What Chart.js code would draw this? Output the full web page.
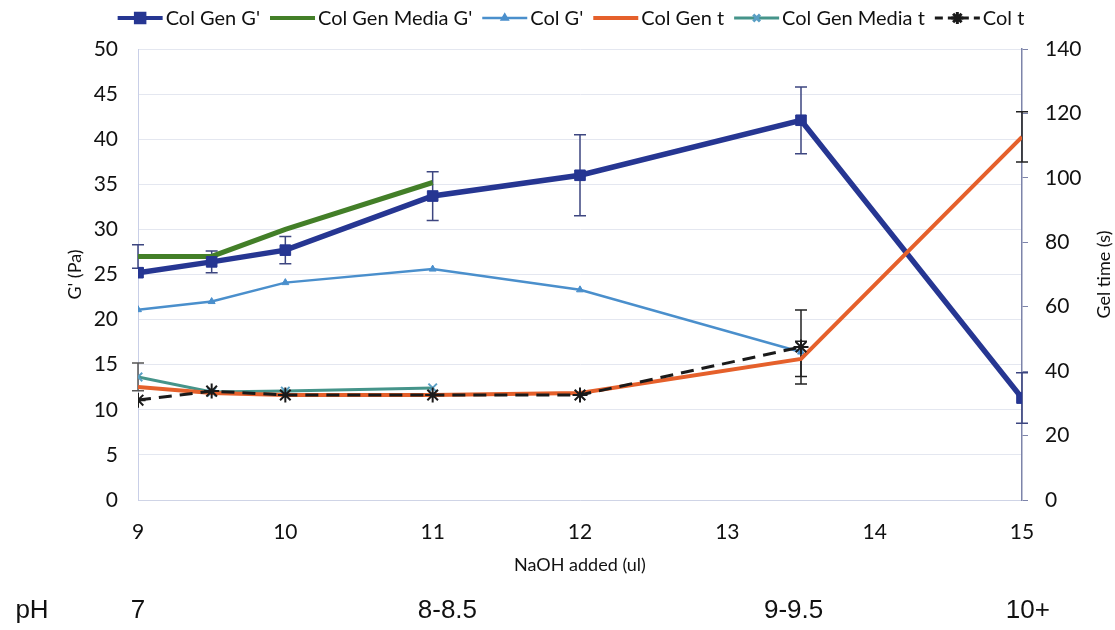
<!DOCTYPE html>
<html>
<head>
<meta charset="utf-8">
<script src="https://cdn.jsdelivr.net/npm/chart.js@4/dist/chart.umd.min.js"></script>
<style>
  html, body { margin: 0; padding: 0; background: #fff; }
  #wrap { width: 1115px; height: 630px; position: relative; }
</style>
</head>
<body>
<div id="wrap"><canvas id="gel-chart"></canvas></div>
<script>
// NaOH added (ul) at each measurement
const naoh = [9, 9.5, 10, 11, 12, 13.5, 15];

// storage modulus G' (Pa), left axis
const colGenG = [25.2, 26.4, 27.7, 33.7, 36.0, 42.1, 11.3];
const colGenGErr = [0, 1.2, 1.5, 2.7, 4.5, 3.7, 2.8];
const colGenMediaG = [27.0, 27.0, 30.0, 35.2];
const colGenMediaGErr = [1.3, 0, 0, 0];
const colG = [21.1, 22.0, 24.1, 25.6, 23.3, 16.4];

// gel time (s), right axis
const colGenT = [35.1, 33.2, 32.6, 32.6, 33.2, 43.8, 112.7];
const colGenTErr = [0, 0, 0, 0, 0, 5.5, 7.8];
const colGenMediaT = [38.2, 33.5, 33.8, 34.8];
const colGenMediaTErr = [4.3, 0, 0, 0];
const colT = [31.0, 33.8, 32.6, 32.6, 32.6, 47.5];
const colTErr = [0, 0, 0, 0, 0, 11.5];

// pH bands under the x axis
const phLabels = ['7', '8-8.5', '9-9.5', '10+'];
const phAt = [9, 11.1, 13.45, 15.04];

const FONT = 'Lato, "Open Sans", sans-serif';

const pts = vals => vals.map((v, i) => ({ x: naoh[i], y: v }));

// vertical error bars with caps, taken from ds.errors
const errorBars = {
  id: 'errorBars',
  beforeDatasetsDraw(chart) {
    const { ctx } = chart;
    const xs = chart.scales.x;
    chart.data.datasets.forEach(ds => {
      if (!ds.errors) return;
      const ys = chart.scales[ds.yAxisID];
      ctx.save();
      ctx.strokeStyle = ds.errorColor;
      ctx.lineWidth = 1.5;
      ds.data.forEach((p, j) => {
        const e = ds.errors[j];
        if (!e) return;
        const x = xs.getPixelForValue(p.x);
        const top = ys.getPixelForValue(p.y + e);
        const bot = ys.getPixelForValue(p.y - e);
        ctx.beginPath();
        ctx.moveTo(x, top); ctx.lineTo(x, bot);
        ctx.moveTo(x - 6, top); ctx.lineTo(x + 6, top);
        ctx.moveTo(x - 6, bot); ctx.lineTo(x + 6, bot);
        ctx.stroke();
      });
      ctx.restore();
    });
  }
};

// legend row (line sample + marker), right axis title, pH row
const extras = {
  id: 'extras',
  afterDraw(chart) {
    const { ctx } = chart;
    const xs = chart.scales.x;
    const area = chart.chartArea;
    ctx.save();

    // legend
    ctx.font = '20px ' + FONT;
    ctx.textBaseline = 'middle';
    const sample = 45, gapText = 3, gapItem = 10;
    const items = chart.data.datasets;
    let total = 0;
    items.forEach(ds => { total += sample + gapText + ctx.measureText(ds.label).width + gapItem; });
    total -= gapItem;
    let lx = 571 - total / 2;
    const ly = 18;
    items.forEach(ds => {
      ctx.save();
      ctx.strokeStyle = ds.borderColor;
      ctx.lineWidth = Math.min(ds.borderWidth, 4);
      ctx.setLineDash(ds.borderDash ? [8, 5] : []);
      ctx.beginPath();
      ctx.moveTo(lx, ly); ctx.lineTo(lx + sample, ly);
      ctx.stroke();
      ctx.setLineDash([]);
      if (ds.pointRadius > 0) {
        ctx.fillStyle = ds.pointBackgroundColor;
        ctx.strokeStyle = ds.pointBorderColor;
        Chart.helpers.drawPoint(ctx, {
          pointStyle: ds.pointStyle, rotation: 0,
          radius: ds.pointRadius * 0.8, borderWidth: ds.pointBorderWidth
        }, lx + sample / 2, ly);
      }
      ctx.restore();
      ctx.fillStyle = '#111';
      ctx.textAlign = 'left';
      ctx.fillText(ds.label, lx + sample + gapText, ly + 1);
      lx += sample + gapText + ctx.measureText(ds.label).width + gapItem;
    });

    // right axis title, reading bottom to top
    ctx.save();
    ctx.translate(1104, (area.top + area.bottom) / 2);
    ctx.rotate(-Math.PI / 2);
    ctx.font = '18px ' + FONT;
    ctx.fillStyle = '#111';
    ctx.textAlign = 'center';
    ctx.fillText('Gel time (s)', 0, 0);
    ctx.restore();

    // pH row
    ctx.font = '26px "Liberation Sans", Arial, sans-serif';
    ctx.fillStyle = '#111';
    ctx.textAlign = 'center';
    ctx.fillText('pH', 32, 611);
    phLabels.forEach((t, i) => {
      ctx.fillText(t, xs.getPixelForValue(phAt[i]), 611);
    });
    ctx.restore();
  }
};

const tickFont = { family: FONT, size: 21 };

new Chart(document.getElementById('gel-chart'), {
  type: 'line',
  data: {
    datasets: [
      {
        label: "Col Gen G'",
        data: pts(colGenG),
        errors: colGenGErr,
        errorColor: '#3d4680',
        yAxisID: 'y',
        borderColor: '#263692',
        borderWidth: 5.5,
        pointStyle: 'rect',
        pointRadius: 7.5,
        pointBorderWidth: 1,
        pointBackgroundColor: '#263692',
        pointBorderColor: '#263692',
        order: 2
      },
      {
        label: "Col Gen Media G'",
        data: pts(colGenMediaG),
        errors: colGenMediaGErr,
        errorColor: '#3d4680',
        yAxisID: 'y',
        borderColor: '#437f28',
        borderWidth: 5,
        pointRadius: 0,
        order: 3
      },
      {
        label: "Col G'",
        data: pts(colG),
        yAxisID: 'y',
        borderColor: '#4a8fcc',
        borderWidth: 2.5,
        pointStyle: 'triangle',
        pointRadius: 4,
        pointBorderWidth: 1,
        pointBackgroundColor: '#4a8fcc',
        pointBorderColor: '#4a8fcc',
        order: 4
      },
      {
        label: 'Col Gen t',
        data: pts(colGenT),
        errors: colGenTErr,
        errorColor: '#222',
        yAxisID: 'y1',
        borderColor: '#e5602b',
        borderWidth: 4,
        pointRadius: 0,
        order: 1
      },
      {
        label: 'Col Gen Media t',
        data: pts(colGenMediaT),
        errors: colGenMediaTErr,
        errorColor: '#555',
        yAxisID: 'y1',
        borderColor: '#45948a',
        borderWidth: 3,
        pointStyle: 'crossRot',
        pointRadius: 6,
        pointBorderWidth: 2,
        pointBackgroundColor: '#5a9fc4',
        pointBorderColor: '#5a9fc4',
        order: 5
      },
      {
        label: 'Col t',
        data: pts(colT),
        errors: colTErr,
        errorColor: '#222',
        yAxisID: 'y1',
        borderColor: '#1a1a1a',
        borderWidth: 3,
        borderDash: [13, 8],
        pointStyle: 'star',
        pointRadius: 7.5,
        pointBorderWidth: 2,
        pointBackgroundColor: '#1a1a1a',
        pointBorderColor: '#1a1a1a',
        order: 0
      }
    ]
  },
  options: {
    responsive: true,
    maintainAspectRatio: false,
    animation: false,
    events: [],
    layout: { padding: { left: 60, right: 0, top: 49, bottom: 50 } },
    elements: { line: { tension: 0, fill: false } },
    plugins: {
      legend: { display: false },
      tooltip: { enabled: false }
    },
    scales: {
      x: {
        type: 'linear',
        min: 9,
        max: 15,
        grid: { display: false, drawTicks: false },
        border: { display: true, color: '#cfd4e6', width: 1 },
        ticks: { stepSize: 1, padding: 20, color: '#111', font: tickFont },
        title: { display: true, text: 'NaOH added (ul)', color: '#111', font: { family: FONT, size: 18 } },
        afterFit: s => { s.height = 80; }
      },
      y: {
        position: 'left',
        min: 0,
        max: 50,
        grid: { color: '#e4e7f0', drawTicks: false },
        border: { color: '#c9cfe7' },
        ticks: { stepSize: 5, padding: 20, color: '#111', font: tickFont },
        title: { display: true, text: "G' (Pa)", color: '#111', font: { family: FONT, size: 18 } },
        afterFit: s => { s.width = 78; }
      },
      y1: {
        position: 'right',
        min: 0,
        max: 140,
        grid: { drawOnChartArea: false, drawTicks: true, tickLength: 6, color: '#7d84aa' },
        border: { color: '#7d84aa', width: 1.5 },
        ticks: { stepSize: 20, padding: 17, color: '#111', font: tickFont },
        afterFit: s => { s.width = 93; }
      }
    }
  },
  plugins: [errorBars, extras]
});
</script>
</body>
</html>
